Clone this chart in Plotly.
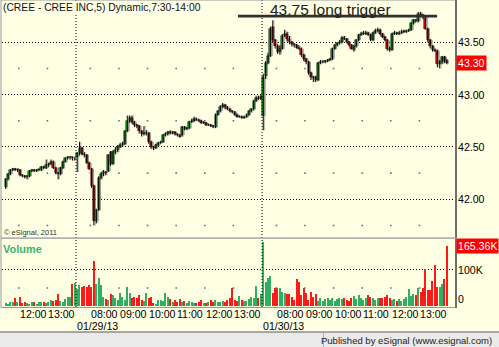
import plotly.graph_objects as go

W, H = 499, 347

# ---------------- data (5-minute bars, CREE) ----------------
bar_index = list(range(186))

opens = [
    42.12, 42.19, 42.24, 42.28, 42.29, 42.28, 42.28, 42.23, 42.22, 42.21,
    42.22, 42.27, 42.28, 42.27, 42.28, 42.28, 42.31, 42.30, 42.33, 42.34,
    42.36, 42.30, 42.25, 42.24, 42.30, 42.36, 42.39, 42.40, 42.40, 42.39,
    42.40, 42.44, 42.49, 42.43, 42.42, 42.35, 42.29, 42.13, 41.79, 41.90,
    42.20, 42.24, 42.26, 42.27, 42.45, 42.34, 42.45, 42.47, 42.50, 42.52,
    42.53, 42.65, 42.75, 42.78, 42.74, 42.71, 42.70, 42.65, 42.62, 42.63,
    42.63, 42.55, 42.50, 42.49, 42.52, 42.54, 42.55, 42.61, 42.62, 42.64,
    42.63, 42.64, 42.62, 42.61, 42.61, 42.69, 42.67, 42.68, 42.74, 42.75,
    42.77, 42.76, 42.75, 42.73, 42.73, 42.71, 42.71, 42.70, 42.69, 42.81,
    42.84, 42.88, 42.90, 42.88, 42.86, 42.84, 42.83, 42.81, 42.79, 42.79,
    42.78, 42.79, 42.81, 42.84, 42.86, 42.94, 42.97, 42.96,
    42.80, 43.18, 43.30, 43.37, 43.65, 43.52, 43.46, 43.41, 43.44, 43.56,
    43.58, 43.53, 43.50, 43.48, 43.47, 43.45, 43.44, 43.38, 43.34, 43.31,
    43.21, 43.17, 43.17, 43.14, 43.30, 43.31, 43.31, 43.32, 43.33, 43.34,
    43.44, 43.47, 43.49, 43.50, 43.54, 43.53, 43.50, 43.47, 43.43, 43.46,
    43.52, 43.57, 43.58, 43.58, 43.59, 43.57, 43.52, 43.59, 43.61, 43.62,
    43.58, 43.55, 43.52, 43.44, 43.43, 43.58, 43.59, 43.58, 43.59, 43.60,
    43.60, 43.61, 43.62, 43.68, 43.71, 43.70, 43.77, 43.76, 43.74, 43.63,
    43.52, 43.46, 43.43, 43.42, 43.29, 43.31, 43.36, 43.32,
]
highs = [
    42.20, 42.25, 42.29, 42.30, 42.30, 42.29, 42.29, 42.24, 42.23, 42.23,
    42.28, 42.29, 42.29, 42.29, 42.29, 42.32, 42.32, 42.38, 42.35, 42.38,
    42.37, 42.31, 42.26, 42.31, 42.37, 42.40, 42.41, 42.41, 42.41, 42.40,
    42.45, 42.55, 42.50, 42.45, 42.43, 42.36, 42.30, 42.14, 41.91, 42.22,
    42.26, 42.28, 42.27, 42.43, 42.46, 42.47, 42.50, 42.52, 42.54, 42.55,
    42.66, 42.80, 42.80, 42.80, 42.75, 42.72, 42.71, 42.66, 42.70, 42.66,
    42.64, 42.56, 42.51, 42.53, 42.55, 42.56, 42.62, 42.64, 42.65, 42.66,
    42.65, 42.65, 42.63, 42.62, 42.70, 42.70, 42.69, 42.75, 42.77, 42.79,
    42.78, 42.77, 42.76, 42.74, 42.74, 42.72, 42.72, 42.71, 42.82, 42.85,
    42.90, 42.92, 42.91, 42.89, 42.87, 42.85, 42.84, 42.82, 42.80, 42.80,
    42.80, 42.82, 42.85, 42.87, 42.95, 42.99, 42.99, 43.00,
    43.20, 43.32, 43.40, 43.65, 43.71, 43.53, 43.48, 43.47, 43.58, 43.62,
    43.60, 43.56, 43.51, 43.49, 43.48, 43.47, 43.45, 43.39, 43.35, 43.32,
    43.22, 43.18, 43.18, 43.31, 43.33, 43.33, 43.33, 43.34, 43.35, 43.45,
    43.48, 43.50, 43.52, 43.56, 43.56, 43.54, 43.51, 43.48, 43.47, 43.53,
    43.58, 43.60, 43.61, 43.61, 43.60, 43.58, 43.60, 43.63, 43.64, 43.63,
    43.59, 43.56, 43.53, 43.46, 43.59, 43.61, 43.60, 43.61, 43.62, 43.62,
    43.62, 43.63, 43.69, 43.72, 43.72, 43.79, 43.79, 43.77, 43.75, 43.64,
    43.53, 43.47, 43.44, 43.43, 43.33, 43.37, 43.37, 43.34,
]
lows = [
    42.10, 42.18, 42.23, 42.27, 42.27, 42.26, 42.22, 42.21, 42.20, 42.19,
    42.21, 42.26, 42.26, 42.26, 42.27, 42.27, 42.29, 42.29, 42.31, 42.33,
    42.29, 42.24, 42.19, 42.23, 42.29, 42.35, 42.38, 42.38, 42.37, 42.37,
    42.26, 42.42, 42.42, 42.40, 42.34, 42.28, 42.11, 41.75, 41.77, 41.89,
    42.19, 42.22, 42.23, 42.26, 42.32, 42.33, 42.43, 42.45, 42.49, 42.50,
    42.52, 42.64, 42.73, 42.72, 42.69, 42.68, 42.63, 42.60, 42.61, 42.61,
    42.53, 42.48, 42.47, 42.48, 42.51, 42.53, 42.54, 42.60, 42.61, 42.62,
    42.62, 42.61, 42.60, 42.59, 42.60, 42.66, 42.66, 42.67, 42.73, 42.74,
    42.75, 42.74, 42.72, 42.72, 42.70, 42.70, 42.69, 42.68, 42.68, 42.80,
    42.83, 42.87, 42.86, 42.85, 42.83, 42.82, 42.80, 42.78, 42.78, 42.77,
    42.77, 42.78, 42.80, 42.83, 42.85, 42.93, 42.95, 42.95,
    42.66, 43.15, 43.29, 43.36, 43.50, 43.44, 43.39, 43.38, 43.43, 43.55,
    43.51, 43.48, 43.46, 43.45, 43.44, 43.43, 43.36, 43.32, 43.29, 43.19,
    43.14, 43.12, 43.12, 43.13, 43.29, 43.30, 43.30, 43.31, 43.32, 43.33,
    43.43, 43.46, 43.48, 43.49, 43.52, 43.49, 43.46, 43.43, 43.41, 43.45,
    43.51, 43.56, 43.57, 43.57, 43.56, 43.51, 43.51, 43.58, 43.60, 43.57,
    43.54, 43.51, 43.42, 43.41, 43.42, 43.57, 43.57, 43.57, 43.58, 43.59,
    43.59, 43.60, 43.61, 43.67, 43.69, 43.69, 43.75, 43.72, 43.62, 43.50,
    43.44, 43.41, 43.41, 43.26, 43.25, 43.29, 43.30, 43.29,
]
closes = [
    42.19, 42.24, 42.28, 42.29, 42.28, 42.28, 42.23, 42.22, 42.21, 42.22,
    42.27, 42.28, 42.27, 42.28, 42.28, 42.31, 42.30, 42.33, 42.34, 42.36,
    42.30, 42.25, 42.24, 42.30, 42.36, 42.39, 42.40, 42.40, 42.39, 42.39,
    42.44, 42.49, 42.43, 42.42, 42.35, 42.29, 42.13, 41.79, 41.90, 42.20,
    42.24, 42.26, 42.25, 42.42, 42.34, 42.45, 42.47, 42.50, 42.52, 42.53,
    42.65, 42.75, 42.78, 42.74, 42.71, 42.70, 42.65, 42.62, 42.63, 42.63,
    42.55, 42.50, 42.49, 42.52, 42.54, 42.55, 42.61, 42.62, 42.64, 42.63,
    42.64, 42.62, 42.61, 42.60, 42.69, 42.67, 42.68, 42.74, 42.75, 42.77,
    42.76, 42.75, 42.73, 42.73, 42.71, 42.71, 42.70, 42.69, 42.81, 42.84,
    42.88, 42.90, 42.88, 42.86, 42.84, 42.83, 42.81, 42.79, 42.79, 42.78,
    42.79, 42.81, 42.84, 42.86, 42.94, 42.97, 42.96, 42.98,
    43.17, 43.30, 43.37, 43.63, 43.52, 43.46, 43.41, 43.44, 43.56, 43.58,
    43.53, 43.50, 43.48, 43.47, 43.45, 43.44, 43.38, 43.34, 43.31, 43.21,
    43.17, 43.16, 43.14, 43.30, 43.31, 43.31, 43.32, 43.33, 43.34, 43.44,
    43.47, 43.49, 43.50, 43.54, 43.53, 43.50, 43.47, 43.44, 43.46, 43.52,
    43.57, 43.58, 43.58, 43.59, 43.57, 43.52, 43.59, 43.61, 43.62, 43.58,
    43.55, 43.52, 43.44, 43.43, 43.58, 43.59, 43.58, 43.59, 43.60, 43.60,
    43.61, 43.62, 43.68, 43.71, 43.70, 43.77, 43.76, 43.74, 43.63, 43.52,
    43.46, 43.43, 43.42, 43.29, 43.31, 43.36, 43.32, 43.30,
]
volumes_k = [
    9, 6, 10, 12, 22, 12, 26, 9, 12, 9,
    6, 10, 12, 6, 10, 12, 10, 8, 11, 17,
    13, 17, 33, 15, 11, 20, 24, 24, 61, 64,
    47, 59, 54, 56, 54, 59, 54, 124, 60, 78,
    59, 26, 20, 17, 33, 31, 22, 17, 36, 26,
    17, 53, 36, 22, 26, 22, 31, 17, 14, 36,
    22, 26, 8, 6, 17, 17, 14, 36, 26, 20,
    12, 17, 12, 20, 12, 14, 9, 14, 12, 9,
    9, 12, 17, 9, 9, 12, 17, 12, 17, 12,
    12, 14, 12, 17, 22, 50, 17, 14, 28, 17,
    14, 14, 20, 26, 22, 56, 22, 33,
    178, 68, 77, 82, 35, 49, 51, 49, 40, 35,
    33, 33, 26, 17, 75, 68, 31, 51, 35, 17,
    40, 26, 33, 15, 21, 15, 20, 23, 17, 23,
    15, 20, 21, 19, 21, 17, 15, 21, 28, 19,
    31, 21, 17, 23, 31, 26, 23, 17, 21, 21,
    21, 26, 31, 21, 18, 20, 15, 20, 15, 20,
    25, 47, 28, 33, 30, 51, 38, 51, 102, 45,
    45, 70, 114, 54, 54, 61, 76, 165.36,
]
assert len(opens) == len(highs) == len(lows) == len(closes) == len(volumes_k) == len(bar_index)

hour_ticks = [5.5, 17.5, 35.5, 47.5, 59.5, 71.5, 83.5, 95.5,
              113.5, 125.5, 137.5, 149.5, 161.5, 173.5]
hour_labels = ["12:00", "13:00", "08:00", "09:00", "10:00", "11:00", "12:00", "13:00",
               "08:00", "09:00", "10:00", "11:00", "12:00", "13:00"]
day_breaks = [29.5, 107.5]
day_labels = ["01/29/13", "01/30/13"]
price_ticks = [42.00, 42.50, 43.00, 43.50]
price_minor = [41.75, 42.25, 42.75, 43.25]
vol_tick_100k = 100000
vol_minor = 50000
trigger_price = 43.75
trigger_from, trigger_to = 97.4, 180.9
trigger_text = "43.75 long trigger"
title_text = "(CREE - CREE INC,5) Dynamic,7:30-14:00"

# ---------------- geometry (pixels) ----------------
def fx(px):
    return px / W

def fy(py):
    return 1 - py / H

X_L, X_R = 2, 455
P_T, P_B = 0, 237
V_T, V_B = 239, 306
X_RANGE = [-1.53, 188.4]
P_RANGE = [41.640, 43.904]
V_RANGE = [0, 186000]

BG = "#FFFFE3"
GREEN = "#00C000"
RED = "#FF0000"
FONT = "Liberation Sans, Arial, sans-serif"
DOT = "1px,2px"
SHADOW_DX = 0.55      # candle shadow offset (bar units)
MIN_BODY = 0.006      # minimum drawn body height for flat candles

volumes = [v * 1000 for v in volumes_k]
vol_colors = []
for i in bar_index:
    prev = closes[i - 1] if i > 0 else opens[i]
    up = closes[i] >= prev
    strong = (closes[i] >= opens[i]) == up
    if up:
        vol_colors.append("#2FAF62" if strong else "#9ED8AF")
    else:
        vol_colors.append("#FF1A1A" if strong else "#FF8A8A")

body_base = [min(o, c) for o, c in zip(opens, closes)]
body_len = [max(abs(c - o), MIN_BODY) for o, c in zip(opens, closes)]
body_col = [GREEN if c >= o else RED for o, c in zip(opens, closes)]

wick_x, wick_y = [], []
for i, hi, lo in zip(bar_index, highs, lows):
    wick_x += [i, i, None]
    wick_y += [lo, hi, None]

fig = go.Figure()

# hour grid dots (intersections of hour ticks with minor levels)
fig.add_trace(go.Scatter(
    x=[t for lvl in price_minor for t in hour_ticks],
    y=[lvl for lvl in price_minor for t in hour_ticks],
    mode="markers", marker=dict(symbol="square", size=1.6, color="#707070"),
    xaxis="x", yaxis="y", hoverinfo="skip", showlegend=False))
fig.add_trace(go.Scatter(
    x=hour_ticks, y=[vol_minor] * len(hour_ticks),
    mode="markers", marker=dict(symbol="square", size=1.6, color="#707070"),
    xaxis="x2", yaxis="y2", hoverinfo="skip", showlegend=False))

# candle shadow (eSignal style)
fig.add_trace(go.Scatter(
    x=[None if v is None else v + SHADOW_DX for v in wick_x], y=wick_y, mode="lines",
    line=dict(color="rgba(120,120,120,0.45)", width=1.2), xaxis="x", yaxis="y",
    hoverinfo="skip", showlegend=False))
fig.add_trace(go.Bar(
    x=[i + SHADOW_DX for i in bar_index], y=body_len, base=body_base, width=0.9,
    marker=dict(color="rgba(120,120,120,0.45)", line=dict(width=0)),
    xaxis="x", yaxis="y", hoverinfo="skip", showlegend=False))

# wicks and bodies
fig.add_trace(go.Scatter(
    x=wick_x, y=wick_y, mode="lines", line=dict(color="#000000", width=1),
    xaxis="x", yaxis="y", hoverinfo="skip", showlegend=False))
fig.add_trace(go.Bar(
    x=bar_index, y=body_len, base=body_base, width=0.85,
    marker=dict(color=body_col, line=dict(color="#000000", width=0.5)),
    xaxis="x", yaxis="y", hoverinfo="skip", showlegend=False))

fig.add_trace(go.Bar(
    x=bar_index, y=volumes, width=0.5, marker=dict(color=vol_colors, line=dict(width=0)),
    xaxis="x2", yaxis="y2", showlegend=False, hoverinfo="skip"))

axis_common = dict(showticklabels=False, ticks="", zeroline=False, showline=False, fixedrange=True)
fig.update_layout(
    width=W, height=H, margin=dict(l=0, r=0, t=0, b=0),
    paper_bgcolor=BG, plot_bgcolor=BG,
    font=dict(family=FONT, size=11, color="#000000"),
    xaxis=dict(domain=[fx(X_L), fx(X_R)], range=X_RANGE, anchor="y", showgrid=False,
               **axis_common),
    yaxis=dict(domain=[fy(P_B), fy(P_T)], range=P_RANGE, anchor="x",
               tickvals=price_ticks, showgrid=True, gridcolor="#000000", gridwidth=1,
               griddash=DOT, **axis_common),
    xaxis2=dict(domain=[fx(X_L), fx(X_R)], range=X_RANGE, anchor="y2", showgrid=False,
                **axis_common),
    yaxis2=dict(domain=[fy(V_B), fy(V_T)], range=V_RANGE, anchor="x2",
                tickvals=[vol_tick_100k], showgrid=True, gridcolor="#000000", gridwidth=1,
                griddash=DOT, **axis_common),
    barmode="overlay", bargap=0,
)

shapes = []
# day separators through both panels
for d in day_breaks:
    shapes.append(dict(type="line", xref="x", yref="paper", x0=d, x1=d,
                       y0=fy(V_B + 1), y1=fy(P_T), line=dict(color="#000000", width=1, dash=DOT)))
# trigger line
shapes.append(dict(type="line", xref="x", yref="y", x0=trigger_from, x1=trigger_to,
                   y0=trigger_price, y1=trigger_price, line=dict(color="#303030", width=2.6)))
# panel frames
shapes.append(dict(type="rect", xref="paper", yref="paper", x0=fx(1), x1=fx(X_R + 0.5),
                   y0=fy(P_B + 1), y1=fy(0), line=dict(color="#9A9A9A", width=1)))
shapes.append(dict(type="rect", xref="paper", yref="paper", x0=fx(1), x1=fx(X_R + 0.5),
                   y0=fy(V_B + 1.5), y1=fy(V_T - 0.5), line=dict(color="#9A9A9A", width=1)))
shapes.append(dict(type="line", xref="paper", yref="paper", x0=fx(X_R + 1), x1=fx(X_R + 1),
                   y0=fy(V_B + 2), y1=fy(0), line=dict(color="#6E6E6E", width=2)))
shapes.append(dict(type="rect", xref="paper", yref="paper", x0=fx(0), x1=fx(X_R + 2),
                   y0=fy(V_T - 0.2), y1=fy(P_B + 0.8), line=dict(width=0), fillcolor="#B8B8B8"))
# status bar
shapes.append(dict(type="rect", xref="paper", yref="paper", x0=0, x1=1,
                   y0=0, y1=fy(332), line=dict(width=0), fillcolor="#EAEAEA", layer="above"))
shapes.append(dict(type="line", xref="paper", yref="paper", x0=0, x1=1,
                   y0=fy(332), y1=fy(332), line=dict(color="#5A5A5A", width=1), layer="above"))
shapes.append(dict(type="line", xref="paper", yref="paper", x0=fx(323.5), x1=fx(323.5),
                   y0=0, y1=fy(333), line=dict(color="#B0B0B0", width=1), layer="above"))
fig.update_layout(shapes=shapes)

ann = []
def txt(text, x, y, xref="paper", yref="paper", xanchor="left", size=10.5, color="#000000",
        bg=None, bold=False, yanchor="middle", pad=0):
    d = dict(text=("<b>%s</b>" % text) if bold else text, x=x, y=y, xref=xref, yref=yref,
             xanchor=xanchor, yanchor=yanchor, showarrow=False, borderpad=pad,
             font=dict(family=FONT, size=size, color=color))
    if bg:
        d["bgcolor"] = bg
    ann.append(d)

txt(title_text, fx(2), fy(7), size=10.3, color="#10102A", bg=BG)
txt(trigger_text, fx(269), fy(9.5), size=15.5, color="#202020")
txt("© eSignal, 2011", fx(3), fy(232), size=7.5, color="#303030")
txt("Volume", fx(2), fy(248.5), size=11, color="#3CB371", bold=True)
for v in price_ticks:
    txt("%.2f" % v, fx(457), v, yref="y", size=10.6)
txt("%.2f" % closes[-1], fx(456), closes[-1], yref="y", size=10.6, color="#FFFFFF",
    bg="#FF0000", pad=1)
txt("100K", fx(457), vol_tick_100k, yref="y2", size=10.6)
txt("0", fx(457), fy(299), size=10.6)
txt("%.2fK" % volumes_k[-1], fx(456), volumes[-1], yref="y2", size=10.6,
    color="#FFFFFF", bg="#FF0000", pad=1)
for t, lab in zip(hour_ticks, hour_labels):
    txt(lab, t, fy(313.5), xref="x2", size=10.6)
for d, lab in zip(day_breaks, day_labels):
    txt(lab, d, fy(325.5), xref="x2", size=10.6)
txt("Published by eSignal (www.esignal.com)", fx(493), fy(340), xanchor="right",
    size=9.5, color="#202020")
fig.update_layout(annotations=ann)

fig.write_html("out.html", config=dict(displayModeBar=False))
